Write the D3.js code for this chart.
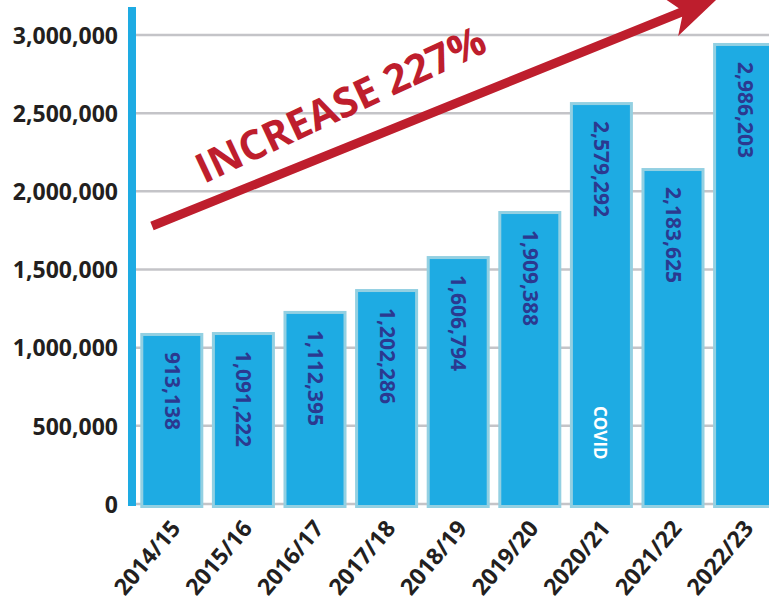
<!DOCTYPE html>
<html>
<head>
<meta charset="utf-8">
<script src="https://cdn.jsdelivr.net/npm/d3@7"></script>
<style>
  html, body { margin: 0; padding: 0; background: #fff; overflow: hidden; }
  svg { display: block; }
</style>
</head>
<body>
<svg id="chart" width="769" height="600"></svg>
<script>
// ---- data ----
const categories = ["2014/15", "2015/16", "2016/17", "2017/18", "2018/19", "2019/20", "2020/21", "2021/22", "2022/23"];
// bar heights as drawn in the picture
const barValues = [1094000, 1100000, 1235000, 1375000, 1586000, 1874000, 2571000, 2149000, 2949000];
// value labels printed inside the bars
const valueLabels = ["913,138", "1,091,222", "1,112,395", "1,202,286", "1,606,794", "1,909,388", "2,579,292", "2,183,625", "2,986,203"];
const yTicks = [0, 500000, 1000000, 1500000, 2000000, 2500000, 3000000];
const noteCategory = "2020/21";
const noteText = "COVID";
const headline = "INCREASE 227%";

// ---- drawing ----
const svg = d3.select("#chart");
const W = 769, H = 600;
const blue = "#1eabe3", barStroke = "#93d0e2", navy = "#2b3990", red = "#be1e2d", dark = "#231f20";

const x = d3.scaleBand().domain(categories).range([136, 780.4]).paddingInner(0.12).paddingOuter(0.06);
const y = d3.scaleLinear().domain([0, 3000000]).range([504, 35]);

// gridlines
const grid = svg.append("g");
grid.selectAll("line").data(yTicks).join("line")
  .attr("x1", 136).attr("x2", W)
  .attr("y1", d => y(d)).attr("y2", d => y(d))
  .attr("stroke", "#c4c4c8").attr("stroke-width", 2.5);

// y axis labels via d3 axis
const yAxis = d3.axisLeft(y).tickValues(yTicks).tickSize(0).tickPadding(0)
  .tickFormat(d3.format(","));
const ya = svg.append("g").attr("transform", "translate(118,0)").call(yAxis);
ya.select(".domain").remove();
ya.selectAll("text")
  .attr("font-family", "'Open Sans', sans-serif").attr("font-weight", 700)
  .attr("font-size", 23).attr("fill", dark).attr("dy", "0.36em");

// blue axis bar
svg.append("rect").attr("x", 128).attr("y", 7).attr("width", 8).attr("height", 499).attr("fill", blue);

// bars
const bars = svg.append("g");
bars.selectAll("rect").data(categories).join("rect")
  .attr("x", d => x(d) + 1.5)
  .attr("y", (d, i) => y(barValues[i]) + 1.5)
  .attr("width", x.bandwidth() - 3)
  .attr("height", (d, i) => y(0) + 1 - y(barValues[i]))
  .attr("fill", blue).attr("stroke", barStroke).attr("stroke-width", 3);

// value labels (rotated)
bars.selectAll("text.val").data(categories).join("text").attr("class", "val")
  .attr("transform", (d, i) => `translate(${x(d) + x.bandwidth() / 2 + 1},${y(barValues[i]) + 19}) rotate(90)`)
  .attr("text-anchor", "start").attr("dominant-baseline", "central")
  .attr("font-family", "'Open Sans', sans-serif").attr("font-weight", 700)
  .attr("font-size", 21).attr("fill", navy)
  .text((d, i) => valueLabels[i]);

// COVID note
svg.append("text")
  .attr("transform", `translate(${x(noteCategory) + x.bandwidth() / 2 - 1},406) rotate(90)`)
  .attr("text-anchor", "start").attr("dominant-baseline", "central")
  .attr("font-family", "'Open Sans', sans-serif").attr("font-weight", 700)
  .attr("font-size", 17).attr("fill", "#ffffff")
  .text(noteText);

// x axis labels
const xAxis = d3.axisBottom(x).tickSize(0).tickPadding(0);
const xa = svg.append("g").call(xAxis);
xa.select(".domain").remove();
xa.selectAll(".tick").attr("transform", d => `translate(${x(d) + x.bandwidth() / 2 + 10},529)`);
xa.selectAll("text")
  .attr("y", 0).attr("dy", 0).attr("x", 0)
  .attr("transform", "rotate(-50)")
  .attr("text-anchor", "end")
  .attr("font-family", "'Open Sans', sans-serif").attr("font-weight", 700)
  .attr("font-size", 23).attr("fill", dark);

// arrow
const ang = -22 * Math.PI / 180;
const ox = 152, oy = 226;
const u = [Math.cos(ang), Math.sin(ang)], n = [-Math.sin(ang), Math.cos(ang)];
const P = (s, t) => [ox + s * u[0] + t * n[0], oy + s * u[1] + t * n[1]];
const hw = 4.5;
const arrowPts = [P(0, -hw), P(570, -hw), P(559, -21), P(612, 0), P(559, 21), P(570, hw), P(0, hw)];
svg.append("path").attr("d", d3.line()(arrowPts) + "Z").attr("fill", red);

// headline
svg.append("text")
  .attr("transform", "translate(204,184) rotate(-25)")
  .attr("font-family", "'Open Sans', sans-serif").attr("font-weight", 700)
  .attr("font-size", 41).attr("fill", red)
  .text(headline);
</script>
</body>
</html>
